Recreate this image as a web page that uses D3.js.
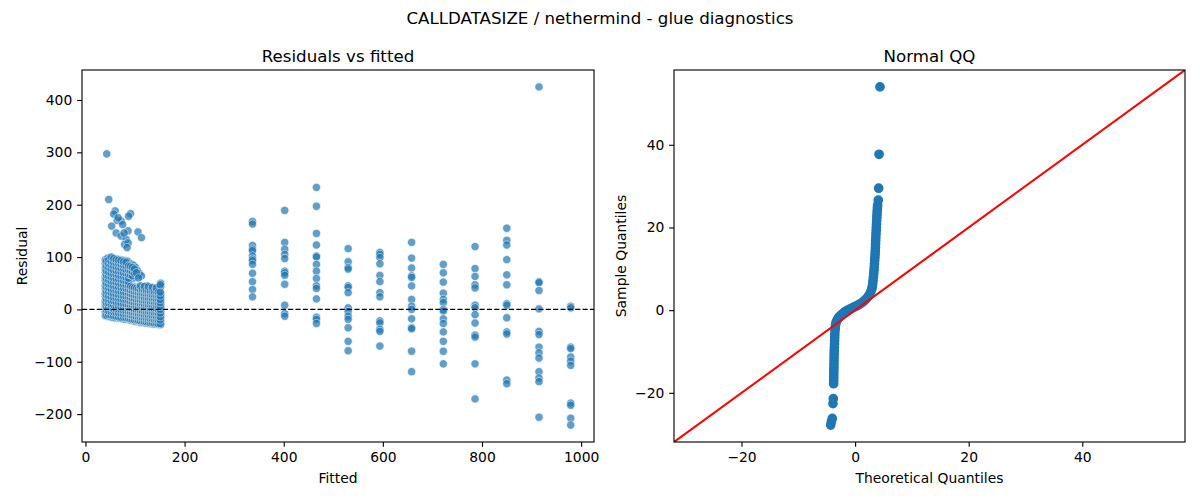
<!DOCTYPE html>
<html>
<head>
<meta charset="utf-8">
<script src="https://cdn.jsdelivr.net/npm/d3@7"></script>
<style>
  body { margin: 0; background: #fff; }
  svg text { font-family: "DejaVu Sans", sans-serif; fill: #000; }
</style>
</head>
<body>
<svg id="chart" width="1200" height="500"></svg>
<script>
var suptitle = 'CALLDATASIZE / nethermind - glue diagnostics'

// residuals vs fitted - the spread out fitted levels on the right
var colFitted = [337, 402, 466, 530, 594, 658, 722, 786, 850, 915, 979]
var colResid = [
  [168, 163, 122, 115, 112, 102, 96, 93, 86, 69, 53, 38, 24],
  [189, 128, 115, 105, 97, 73, 70, 65, 48, 8, -8, -13],
  [233, 197, 145, 123, 102, 100, 86, 73, 59, 45, 40, 20, -15, -19, -27],
  [116, 91, 80, 77, 45, 42, 32, 3, -4, -13, -19, -35, -61, -79],
  [109, 105, 99, 87, 65, 53, 32, 24, -22, -26, -38, -42, -70],
  [128, 98, 79, 64, 61, 45, 19, 6, 0, -18, -35, -37, -80, -119],
  [86, 70, 52, 31, 19, 13, 0, -3, -18, -27, -43, -61, -80, -104],
  [120, 78, 63, 47, 41, 8, 3, -10, -26, -49, -53, -104, -171],
  [155, 132, 123, 95, 66, 47, 11, 8, -16, -43, -47, -135, -142],
  [425, 53, 51, 36, 1, -42, -48, -72, -83, -93, -119, -131, -138, -206],
  [6, 3, -72, -75, -91, -99, -107, -179, -183, -208, -221]
]

// dense cluster at low fitted values (two interleaved passes)
var clusterFitted = [40, 45, 50, 55, 60, 65, 70, 75, 80, 85, 89, 93, 97, 101, 105, 109, 113, 117, 121, 125, 129, 133, 137, 141, 145, 149, 152,
  42, 47, 52, 57, 62, 67, 72, 77, 82, 87, 91, 95, 99, 103, 107, 111, 115, 119, 123, 127, 131, 135, 139, 143, 147, 151]
var clusterResid = [
  [-12, -4, 3, 10, 16, 25, 31, 40, 46, 55, 62, 71, 79, 88, 95],
  [-13, -6, 2, 8, 15, 22, 30, 38, 44, 52, 61, 67, 76, 84, 91, 98],
  [-14, -7, 0, 7, 13, 21, 28, 35, 43, 51, 58, 66, 73, 82, 89, 96],
  [-15, -8, -1, 5, 12, 20, 27, 34, 42, 49, 57, 64, 72, 79, 87, 94, 99],
  [-16, -9, -2, 4, 11, 18, 26, 33, 41, 48, 56, 63, 70, 78, 86, 93, 97],
  [-16, -10, -3, 3, 10, 17, 25, 32, 39, 47, 54, 62, 69, 77, 84, 91, 96],
  [-17, -11, -4, 2, 9, 16, 24, 31, 38, 46, 53, 61, 68, 76, 83, 90, 95],
  [-18, -11, -5, 1, 8, 15, 23, 30, 37, 45, 52, 59, 67, 74, 82, 89, 94],
  [-19, -12, -6, 0, 7, 14, 22, 29, 36, 44, 51, 58, 66, 72, 80, 87, 93],
  [-19, -13, -6, 0, 6, 13, 21, 28, 35, 43, 50, 57, 63, 71, 78, 86, 92],
  [-20, -14, -7, -1, 5, 12, 20, 27, 34, 42, 49, 56, 64, 72, 80, 88],
  [-21, -15, -8, -2, 5, 11, 18, 25, 32, 39, 45, 62, 70, 78, 86],
  [-22, -15, -9, -3, 4, 10, 17, 24, 31, 38, 44, 60, 68, 76, 84],
  [-23, -16, -9, -3, 3, 10, 16, 23, 30, 37, 43, 65, 73, 80],
  [-23, -17, -10, -4, 3, 9, 16, 22, 29, 36, 42, 66, 74],
  [-24, -17, -11, -5, 2, 8, 15, 22, 28, 35, 42, 68],
  [-25, -18, -11, -5, 1, 8, 14, 21, 28, 35, 41, 64],
  [-25, -19, -12, -6, 1, 7, 14, 20, 27, 34, 41],
  [-26, -19, -13, -6, 0, 7, 13, 20, 27, 34, 40],
  [-26, -20, -13, -7, 0, 6, 13, 19, 26, 33, 40, 45],
  [-27, -20, -14, -7, -1, 6, 12, 19, 26, 33, 39],
  [-27, -21, -14, -8, -1, 5, 12, 18, 25, 32, 39],
  [-28, -21, -15, -8, -2, 5, 11, 18, 25, 32, 38],
  [-28, -22, -15, -9, -2, 4, 11, 17, 24, 31, 38],
  [-28, -22, -16, -9, -3, 4, 10, 17, 24, 31, 37],
  [-29, -22, -16, -10, -3, 3, 10, 16, 23, 30, 37],
  [-29, -23, -16, -10, -4, 3, 9, 16, 23, 30, 44, 50],
  [-11, -1, 6, 13, 20, 28, 35, 43, 50, 59, 66, 74, 83, 92],
  [-10, -3, 5, 12, 19, 26, 34, 41, 48, 56, 64, 71, 80, 87, 95],
  [-11, -4, 3, 10, 17, 24, 32, 39, 47, 54, 62, 69, 77, 85, 92, 100],
  [-12, -5, 1, 8, 16, 23, 30, 38, 45, 53, 60, 68, 75, 83, 90, 97],
  [-13, -6, 1, 7, 14, 22, 29, 37, 44, 52, 59, 67, 74, 81, 89, 95],
  [-14, -7, 0, 6, 13, 21, 28, 35, 43, 50, 58, 65, 73, 80, 88, 94],
  [-15, -8, -1, 5, 12, 20, 27, 34, 42, 49, 57, 64, 72, 79, 86, 93],
  [-15, -9, -2, 4, 11, 19, 26, 33, 41, 48, 55, 63, 70, 78, 85, 91],
  [-16, -9, -3, 3, 10, 18, 25, 32, 40, 47, 54, 61, 69, 76, 83, 90],
  [-17, -10, -4, 3, 9, 17, 24, 31, 38, 46, 53, 60, 67, 75, 83],
  [-18, -11, -5, 2, 8, 15, 23, 30, 37, 44, 66, 74, 82],
  [-19, -12, -6, 1, 8, 14, 21, 28, 35, 42, 64, 72, 80],
  [-20, -13, -6, 0, 7, 13, 20, 27, 34, 41, 69, 77],
  [-20, -14, -7, -1, 6, 13, 19, 26, 33, 40, 70],
  [-21, -14, -8, -1, 5, 12, 19, 25, 32, 39, 60],
  [-22, -15, -8, -2, 5, 11, 18, 25, 31, 38, 45],
  [-22, -16, -9, -3, 4, 11, 17, 24, 31, 38],
  [-23, -16, -10, -3, 4, 10, 17, 23, 30, 37, 44],
  [-24, -17, -10, -4, 3, 10, 16, 23, 30, 36],
  [-24, -17, -11, -4, 3, 9, 16, 22, 29, 36, 43],
  [-25, -18, -11, -5, 2, 9, 15, 22, 29, 35],
  [-25, -18, -12, -5, 2, 8, 15, 21, 28, 35, 42],
  [-26, -19, -12, -6, 1, 8, 14, 21, 28, 34],
  [-26, -19, -13, -6, 1, 7, 14, 20, 27, 34, 41],
  [-27, -20, -13, -7, 0, 7, 13, 20, 27, 33],
  [-27, -20, -14, -7, 0, 6, 13, 19, 26, 33, 47]
]

// stray points above the cluster
var strayFitted = [43, 47, 60, 57, 91, 87, 64, 72, 53, 75, 86, 106, 113, 62, 72, 82, 79, 86, 84, 66, 78]
var strayResid = [297, 210, 188, 182, 183, 178, 170, 169, 159, 162, 150, 148, 137, 146, 140, 134, 124, 127, 118, 175, 146]

// normal QQ: theoretical vs sample quantiles
var qqTheo = [
  -4.30, -4.18, -4.02, -3.90, -3.84,
  -3.78, -3.77, -3.76, -3.75, -3.74, -3.73, -3.72, -3.71, -3.70, -3.69, -3.67, -3.65, -3.63, -3.61, -3.59, -3.57, -3.54, -3.50, -3.45,
  -3.35, -3.20, -3.00, -2.80, -2.50, -2.20, -1.90, -1.60, -1.30, -1.00, -0.70, -0.40, -0.10, 0.20, 0.50, 0.80, 1.10, 1.40, 1.70, 2.00, 2.30, 2.60, 2.80, 2.95, 3.03,
  3.10, 3.16, 3.22, 3.28, 3.33, 3.37, 3.41, 3.45, 3.49, 3.52, 3.55, 3.58, 3.60, 3.62, 3.65, 3.68, 3.71, 3.74, 3.77, 3.80, 3.83, 3.86, 3.89, 3.93, 3.97,
  4.08, 4.15, 4.22, 4.38
]
var qqSample = [
  -27.8, -27.0, -26.2, -22.6, -21.4,
  -17.8, -17.0, -16.2, -15.4, -14.6, -13.8, -13.0, -12.2, -11.4, -10.6, -9.8, -9.0, -8.2, -7.4, -6.6, -5.8, -5.0, -4.3, -3.6,
  -3.0, -2.5, -2.0, -1.6, -1.2, -0.9, -0.5, -0.25, 0.0, 0.2, 0.4, 0.6, 0.8, 1.0, 1.2, 1.45, 1.7, 2.0, 2.4, 2.8, 3.3, 4.0, 4.6, 5.2, 5.7,
  6.4, 7.2, 8.0, 8.8, 9.6, 10.4, 11.2, 12.0, 12.8, 13.6, 14.4, 15.2, 16.0, 16.8, 17.6, 18.4, 19.2, 20.0, 20.8, 21.6, 22.4, 23.2, 24.0, 24.8, 25.4,
  26.6, 29.5, 37.7, 54.0
]

var resXTicks = [0, 200, 400, 600, 800, 1000]
var resYTicks = [-200, -100, 0, 100, 200, 300, 400]
var qqTicks = [-20, 0, 20, 40]

var blue = '#1f77b4'
var pt = 100 / 72 // matplotlib points to px at 100 dpi

var svg = d3.select('#chart')

// matplotlib style autoscale: 5% margin each side
function padded(ext) {
  var m = (ext[1] - ext[0]) * 0.05
  return [ext[0] - m, ext[1] + m]
}

function fmt(v) { return v < 0 ? '\u2212' + Math.abs(v) : String(v) }

function drawFrame(box, x, y, xTicks, yTicks, title, xLabel, yLabel, yLabelX) {
  var g = svg.append('g')
  var tick = 3.5 * pt

  g.append('g')
    .attr('transform', 'translate(0,' + box.y1 + ')')
    .call(d3.axisBottom(x).tickValues(xTicks).tickFormat(fmt).tickSize(tick).tickPadding(tick).tickSizeOuter(0))
    .call(function(a) { a.select('.domain').remove() })

  g.append('g')
    .attr('transform', 'translate(' + box.x0 + ',0)')
    .call(d3.axisLeft(y).tickValues(yTicks).tickFormat(fmt).tickSize(tick).tickPadding(tick).tickSizeOuter(0))
    .call(function(a) { a.select('.domain').remove() })

  g.selectAll('.tick line').attr('stroke', '#000').attr('stroke-width', 0.8 * pt)
  g.selectAll('.tick text')
    .attr('font-size', 10 * pt)
    .attr('font-family', '"DejaVu Sans", sans-serif')
    .attr('fill', '#000')

  g.append('rect')
    .attr('x', box.x0).attr('y', box.y0)
    .attr('width', box.x1 - box.x0).attr('height', box.y1 - box.y0)
    .attr('fill', 'none').attr('stroke', '#000').attr('stroke-width', 0.8 * pt)

  g.append('text')
    .attr('x', (box.x0 + box.x1) / 2).attr('y', box.y0 - 6 * pt)
    .attr('text-anchor', 'middle').attr('font-size', 12 * pt)
    .text(title)

  g.append('text')
    .attr('x', (box.x0 + box.x1) / 2).attr('y', 483)
    .attr('text-anchor', 'middle').attr('font-size', 10 * pt)
    .text(xLabel)

  g.append('text')
    .attr('transform', 'translate(' + yLabelX + ',' + ((box.y0 + box.y1) / 2) + ') rotate(-90)')
    .attr('text-anchor', 'middle').attr('font-size', 10 * pt)
    .text(yLabel)
}

// ---- residuals vs fitted
var resBox = { x0: 82, x1: 594, y0: 70, y1: 442 }

var resPoints = []
colFitted.forEach(function(f, i) { colResid[i].forEach(function(r) { resPoints.push([f, r]) }) })
clusterFitted.forEach(function(f, i) { clusterResid[i].forEach(function(r) { resPoints.push([f, r]) }) })
strayFitted.forEach(function(f, i) { resPoints.push([f, strayResid[i]]) })

var resX = d3.scaleLinear()
  .domain(padded(d3.extent(resPoints, function(d) { return d[0] })))
  .range([resBox.x0, resBox.x1])
var resY = d3.scaleLinear()
  .domain(padded(d3.extent(resPoints, function(d) { return d[1] })))
  .range([resBox.y1, resBox.y0])

svg.append('g')
  .selectAll('circle')
  .data(resPoints)
  .enter().append('circle')
    .attr('cx', function(d) { return resX(d[0]) })
    .attr('cy', function(d) { return resY(d[1]) })
    .attr('r', 3 * pt)
    .attr('fill', blue)
    .attr('stroke', '#fff')
    .attr('stroke-width', 0.48 * pt)
    .attr('opacity', 0.7)

svg.append('line')
  .attr('x1', resBox.x0).attr('x2', resBox.x1)
  .attr('y1', resY(0)).attr('y2', resY(0))
  .attr('stroke', '#000').attr('stroke-width', 1 * pt)
  .attr('stroke-dasharray', (3.7 * pt) + ',' + (1.6 * pt))

drawFrame(resBox, resX, resY, resXTicks, resYTicks, 'Residuals vs fitted', 'Fitted', 'Residual', 27)

// ---- normal QQ
var qqBox = { x0: 674, x1: 1185, y0: 70, y1: 442 }
var qqData = qqTheo.map(function(t, i) { return [t, qqSample[i]] })

// statsmodels line='45' forces equal limits on both axes
var xl = padded(d3.extent(qqTheo)), yl = padded(d3.extent(qqSample))
var lim = [Math.min(xl[0], yl[0]), Math.max(xl[1], yl[1])]

var qqX = d3.scaleLinear().domain(lim).range([qqBox.x0, qqBox.x1])
var qqY = d3.scaleLinear().domain(lim).range([qqBox.y1, qqBox.y0])

svg.append('clipPath').attr('id', 'qq-clip')
  .append('rect')
    .attr('x', qqBox.x0).attr('y', qqBox.y0)
    .attr('width', qqBox.x1 - qqBox.x0).attr('height', qqBox.y1 - qqBox.y0)

var qq = svg.append('g').attr('clip-path', 'url(#qq-clip)')

qq.selectAll('circle')
  .data(qqData)
  .enter().append('circle')
    .attr('cx', function(d) { return qqX(d[0]) })
    .attr('cy', function(d) { return qqY(d[1]) })
    .attr('r', 3 * pt)
    .attr('fill', blue)
    .attr('stroke', blue)
    .attr('stroke-width', 1 * pt)

qq.append('line')
  .attr('x1', qqX(lim[0])).attr('y1', qqY(lim[0]))
  .attr('x2', qqX(lim[1])).attr('y2', qqY(lim[1]))
  .attr('stroke', '#ff0000').attr('stroke-width', 1.5 * pt)

drawFrame(qqBox, qqX, qqY, qqTicks, qqTicks, 'Normal QQ', 'Theoretical Quantiles', 'Sample Quantiles', 626)

svg.append('text')
  .attr('x', 600).attr('y', 24)
  .attr('text-anchor', 'middle').attr('font-size', 12 * pt)
  .text(suptitle)
</script>
</body>
</html>
